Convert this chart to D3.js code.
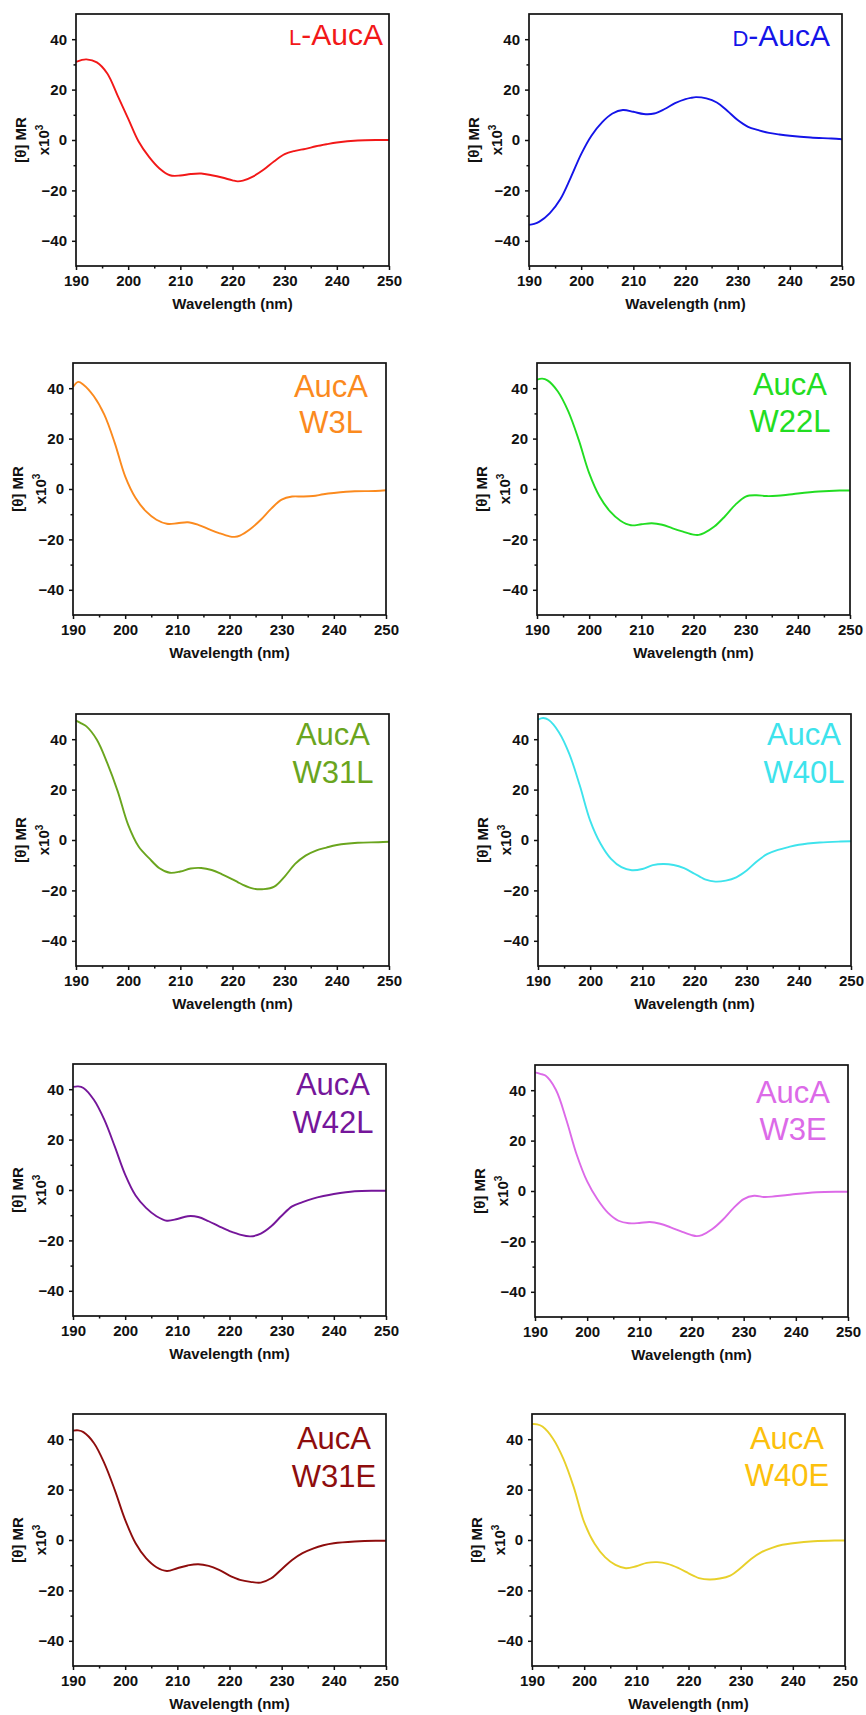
<!DOCTYPE html>
<html>
<head>
<meta charset="utf-8">
<script src="https://cdn.jsdelivr.net/npm/d3@7"></script>
<style>
  body { margin: 0; background: #fff; }
  svg { display: block; font-family: Arial, "Liberation Sans", sans-serif; }
  .tick text { font-size: 15px; font-weight: bold; fill: #111; }
</style>
</head>
<body>
<svg id="chart" width="866" height="1715"></svg>
<script>
// wavelength grid (nm) shared by every spectrum
const wavelengths = [190, 191, 192, 194, 196, 198, 200, 202, 204, 206, 208, 210, 212, 214, 216,
  218, 220, 221, 222, 224, 226, 228, 230, 232, 234, 236, 238, 240, 244, 248, 250];

// mean residue ellipticity x10^3
const lAucA = [31, 31.7, 32, 30.8, 26.4, 17.5, 8.5, -0.6, -6.7, -11.3, -14, -14.1, -13.5, -13.3, -14,
  -14.9, -16, -16.4, -16.1, -14.4, -11.7, -8.4, -5.6, -4.3, -3.5, -2.5, -1.7, -1, -0.2, 0, 0];
const dAucA = [-33.7, -33.3, -32.4, -29, -23.5, -14.9, -5.6, 1.8, 7, 10.5, 11.9, 11.2, 10.3, 10.5, 12.3,
  14.6, 16.2, 16.7, 17, 16.5, 14.9, 11.6, 7.9, 5.2, 3.9, 2.8, 2.2, 1.7, 1, 0.6, 0.3];
const w3L = [40.5, 42.5, 41.4, 36.8, 29.5, 18.3, 5, -3.6, -8.9, -12.2, -13.8, -13.6, -13.2, -14.2, -15.9,
  -17.5, -18.8, -19, -18.5, -15.9, -12.2, -7.8, -4.2, -3, -3, -2.8, -2.1, -1.6, -0.9, -0.8, -0.5];
const w22L = [43.4, 43.8, 43.1, 38.7, 30.8, 19.5, 6.3, -3, -8.9, -12.6, -14.4, -14, -13.6, -14.2, -15.6,
  -16.9, -18.1, -18.2, -17.5, -14.9, -10.9, -6.3, -3, -2.5, -2.8, -2.7, -2.3, -1.8, -1, -0.6, -0.6];
const w31L = [47.4, 46.3, 45.1, 39.8, 30.5, 19.3, 6, -2.6, -7.2, -11.2, -13, -12.5, -11.3, -11.1, -11.9,
  -13.6, -15.6, -16.7, -17.8, -19.3, -19.5, -18.5, -14.5, -9.5, -6.2, -4.2, -3, -2, -1.1, -0.9, -0.7];
const w40L = [47.8, 48.4, 47.7, 42.8, 34.2, 21.7, 7.7, -1.5, -7.5, -10.8, -12, -11.5, -10, -9.5, -9.9,
  -11.2, -13.4, -14.5, -15.6, -16.5, -16.1, -14.8, -12.1, -8.4, -5.5, -3.9, -2.8, -1.9, -1, -0.6, -0.5];
const w42L = [40.9, 41.1, 40.5, 35.8, 27.9, 17.3, 6.1, -2.2, -7.1, -10.4, -12.2, -11.5, -10.4, -10.7, -12.4,
  -14.4, -16.3, -17, -17.7, -18.4, -17.3, -14.4, -10.2, -6.5, -4.8, -3.4, -2.4, -1.6, -0.5, -0.3, -0.3];
const w3E = [47.1, 46.5, 45.8, 40.2, 28.3, 14.4, 3.8, -3.4, -8.7, -11.8, -12.8, -12.7, -12.3, -13, -14.4,
  -16, -17.5, -17.9, -17.5, -15.1, -11.4, -6.9, -3.2, -1.9, -2.4, -2.1, -1.7, -1.2, -0.5, -0.3, -0.3];
const w31E = [43.4, 43.5, 42.8, 38.5, 30.5, 19.9, 8, -1.3, -7.2, -10.8, -12.3, -11.2, -10.1, -9.6, -10.3,
  -11.9, -14.1, -15, -15.8, -16.6, -16.9, -15.2, -11.6, -7.9, -5.2, -3.4, -2.1, -1.3, -0.6, -0.3, -0.3];
const w40E = [46, 45.9, 45, 40.3, 32.3, 21, 7.1, -1.5, -6.8, -9.9, -11.2, -10.4, -9.1, -8.8, -9.5,
  -11.1, -13.2, -14.2, -15.1, -15.7, -15.3, -14.1, -11.1, -7.5, -4.8, -3.1, -1.9, -1.3, -0.5, -0.2, -0.2];

const xTicks = [190, 200, 210, 220, 230, 240, 250];
const xMinor = [195, 205, 215, 225, 235, 245];
const yTicks = [-40, -20, 0, 20, 40];
const yMinor = [-30, -10, 10, 30];

// panels: series, label lines, colours
const panels = [
  { values: lAucA, label: [["L", "-AucA"]], color: "#f21818" },
  { values: dAucA, label: [["D", "-AucA"]], color: "#1414e8" },
  { values: w3L, label: ["AucA", "W3L"], color: "#fb8a1e" },
  { values: w22L, label: ["AucA", "W22L"], color: "#22dd22" },
  { values: w31L, label: ["AucA", "W31L"], color: "#6aa51e" },
  { values: w40L, label: ["AucA", "W40L"], color: "#3ee3ec" },
  { values: w42L, label: ["AucA", "W42L"], color: "#75169a" },
  { values: w3E, label: ["AucA", "W3E"], color: "#dc6ae8" },
  { values: w31E, label: ["AucA", "W31E"], color: "#8e0d0d" },
  { values: w40E, label: ["AucA", "W40E"], color: "#e8d02a", labelColor: "#fcc00c" },
];

// placement of each plot box and of its label (lx, ly relative to the box)
const layout = [
  { left: 76, top: 14, lx: 307, ly: [31] },
  { left: 529, top: 14, lx: 301, ly: [32] },
  { left: 73, top: 363, lx: 258, ly: [34, 70] },
  { left: 537, top: 363, lx: 253, ly: [32, 69] },
  { left: 76, top: 714, lx: 257, ly: [31, 69] },
  { left: 538, top: 714, lx: 266, ly: [31, 69] },
  { left: 73, top: 1064, lx: 260, ly: [31, 69] },
  { left: 535, top: 1065, lx: 258, ly: [38, 75] },
  { left: 73, top: 1414, lx: 261, ly: [35, 73] },
  { left: 532, top: 1414, lx: 255, ly: [35, 72] },
];

const W = 313, H = 252;
const svg = d3.select("#chart");

const xScale = d3.scaleLinear().domain([190, 250]).range([0, W]);
const yScale = d3.scaleLinear().domain([-50, 50]).range([H, 0]);

const line = d3.line()
  .x((d) => xScale(d[0]))
  .y((d) => yScale(d[1]))
  .curve(d3.curveCatmullRom.alpha(0.5));

function drawPanel(p, pos) {
  const g = svg.append("g").attr("transform", `translate(${pos.left}, ${pos.top})`);

  // Curve
  g.append("path")
    .datum(wavelengths.map((w, i) => [w, p.values[i]]))
    .attr("fill", "none")
    .attr("stroke", p.color)
    .attr("stroke-width", 1.9)
    .attr("d", line);

  // Axes, major + minor ticks
  g.append("g").call(
    d3.axisLeft(yScale).tickValues(yTicks).tickSize(4).tickSizeOuter(0).tickPadding(5)
  );
  g.append("g").call(
    d3.axisLeft(yScale).tickValues(yMinor).tickSize(2.5).tickSizeOuter(0).tickFormat("")
  );
  g.append("g").attr("transform", `translate(0, ${H})`).call(
    d3.axisBottom(xScale).tickValues(xTicks).tickSize(4).tickSizeOuter(0).tickPadding(5)
  );
  g.append("g").attr("transform", `translate(0, ${H})`).call(
    d3.axisBottom(xScale).tickValues(xMinor).tickSize(2.5).tickSizeOuter(0).tickFormat("")
  );
  g.selectAll(".domain").remove();
  g.selectAll(".tick line").attr("stroke", "#111").attr("stroke-width", 1.5);

  // Frame
  g.append("rect")
    .attr("width", W)
    .attr("height", H)
    .attr("fill", "none")
    .attr("stroke", "#111")
    .attr("stroke-width", 1.7);

  // Axis titles
  g.append("text")
    .attr("x", W / 2)
    .attr("y", H + 43)
    .attr("text-anchor", "middle")
    .style("font-size", "15px")
    .style("font-weight", "bold")
    .attr("fill", "#111")
    .text("Wavelength (nm)");

  const yt = g.append("g")
    .attr("transform", `translate(0, ${H / 2}) rotate(-90)`)
    .style("font-size", "15px")
    .style("font-weight", "bold")
    .attr("fill", "#111")
    .attr("text-anchor", "middle");
  yt.append("text").attr("y", -50).text("[θ] MR");
  const t2 = yt.append("text").attr("y", -27);
  t2.append("tspan").text("x10");
  t2.append("tspan").attr("dy", -6).style("font-size", "10px").text("3");

  // Sample label
  const labelColor = p.labelColor || p.color;
  if (p.label.length === 1) {
    const t = g.append("text")
      .attr("x", pos.lx)
      .attr("y", pos.ly[0])
      .attr("text-anchor", "end")
      .attr("fill", labelColor)
      .style("font-size", "30px");
    t.append("tspan").style("font-size", "22px").text(p.label[0][0]);
    t.append("tspan").text(p.label[0][1]);
  } else {
    p.label.forEach((s, i) => {
      g.append("text")
        .attr("x", pos.lx)
        .attr("y", pos.ly[i])
        .attr("text-anchor", "middle")
        .attr("fill", labelColor)
        .style("font-size", "31px")
        .text(s);
    });
  }
}

panels.forEach((p, i) => drawPanel(p, layout[i]));
</script>
</body>
</html>
